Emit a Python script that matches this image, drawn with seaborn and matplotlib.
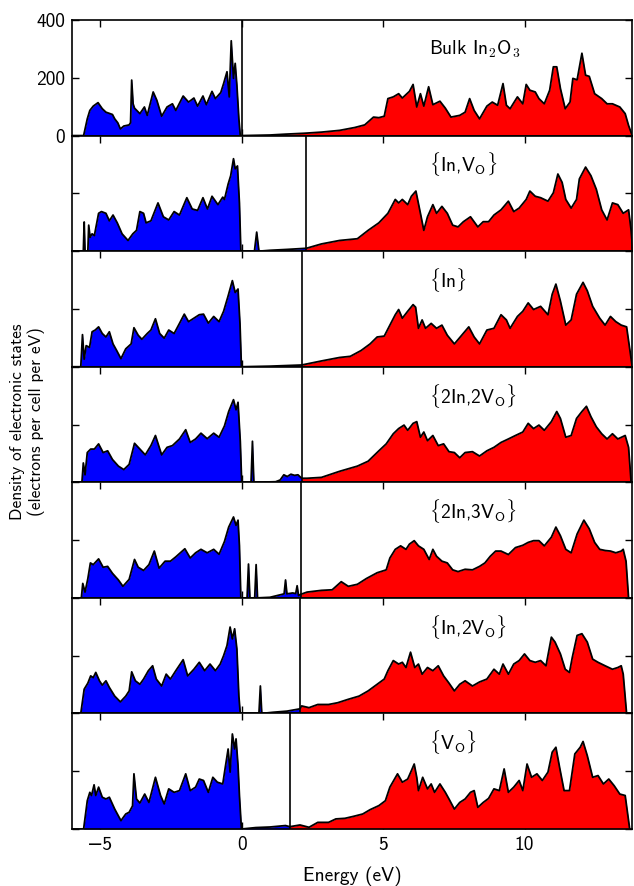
import numpy as np
import matplotlib
matplotlib.use("Agg")
import matplotlib.pyplot as plt
import seaborn as sns

# density of states: (energy eV, states per cell per eV)
bulk = [(-6.0, 0), (-5.59, 0), (-5.46, 58), (-5.37, 87), (-5.25, 102), (-5.08, 114), (-4.93, 93),
        (-4.80, 81), (-4.57, 73), (-4.49, 58), (-4.38, 44), (-4.29, 23), (-4.17, 33), (-3.98, 37),
        (-3.93, 45), (-3.89, 192), (-3.84, 110), (-3.79, 95), (-3.60, 76), (-3.44, 99), (-3.34, 70),
        (-3.13, 151), (-3.00, 122), (-2.83, 67), (-2.64, 99), (-2.45, 110), (-2.33, 87), (-2.07, 137),
        (-1.88, 116), (-1.69, 130), (-1.56, 102), (-1.37, 137), (-1.25, 107), (-1.05, 153), (-0.93, 128),
        (-0.74, 149), (-0.64, 180), (-0.52, 221), (-0.44, 134), (-0.37, 328), (-0.29, 198), (-0.23, 250),
        (-0.17, 174), (-0.10, 58), (-0.05, 0), (0.0, 0), (1.0, 2), (1.55, 5), (2.2, 8), (2.82, 12),
        (3.46, 18), (4.0, 28), (4.35, 37), (4.5, 50), (4.66, 64), (4.85, 62), (5.04, 67), (5.17, 128),
        (5.36, 134), (5.55, 145), (5.68, 130), (5.93, 153), (6.06, 177), (6.19, 99), (6.32, 145),
        (6.44, 102), (6.61, 169), (6.76, 107), (7.01, 119), (7.20, 95), (7.40, 64), (7.71, 70), (7.90, 81),
        (8.06, 128), (8.22, 87), (8.41, 58), (8.67, 102), (8.86, 116), (9.05, 105), (9.24, 180),
        (9.36, 105), (9.49, 93), (9.75, 134), (9.94, 110), (10.06, 177), (10.19, 157), (10.38, 151),
        (10.51, 128), (10.70, 110), (10.89, 157), (11.02, 238), (11.14, 238), (11.27, 163), (11.44, 93),
        (11.61, 116), (11.71, 198), (11.86, 193), (12.03, 285), (12.16, 209), (12.29, 205), (12.48, 145),
        (12.73, 128), (12.92, 110), (13.11, 110), (13.37, 99), (13.56, 76), (13.68, 35), (13.81, 0)]

in_vo = [(-6.0, 0), (-5.60, 0), (-5.57, 101), (-5.54, 0), (-5.44, 0), (-5.41, 90), (-5.36, 48), (-5.29, 60),
         (-5.21, 54), (-5.06, 131), (-4.96, 137), (-4.80, 131), (-4.68, 105), (-4.55, 125), (-4.40, 98),
         (-4.23, 60), (-4.02, 37), (-3.85, 60), (-3.72, 72), (-3.60, 137), (-3.47, 131), (-3.38, 98),
         (-3.21, 105), (-2.96, 167), (-2.77, 119), (-2.58, 108), (-2.39, 137), (-2.20, 125), (-1.94, 185),
         (-1.75, 146), (-1.56, 141), (-1.37, 185), (-1.21, 146), (-1.05, 190), (-0.84, 161), (-0.67, 187),
         (-0.61, 179), (-0.48, 232), (-0.39, 261), (-0.29, 320), (-0.23, 285), (-0.15, 295), (-0.08, 166),
         (-0.03, 0), (0.45, 0), (0.53, 66), (0.61, 0), (1.0, 3), (1.6, 6), (2.29, 10), (2.82, 25),
         (3.46, 37), (4.09, 43), (4.47, 72), (4.85, 98), (5.17, 131), (5.43, 179), (5.55, 167), (5.68, 179),
         (5.87, 161), (6.00, 190), (6.16, 208), (6.32, 131), (6.44, 72), (6.57, 119), (6.76, 161),
         (6.89, 131), (7.08, 155), (7.27, 131), (7.46, 90), (7.65, 84), (7.84, 102), (8.09, 119), (8.35, 84),
         (8.54, 102), (8.73, 102), (8.92, 125), (9.17, 143), (9.43, 173), (9.62, 137), (9.81, 149),
         (10.06, 179), (10.19, 208), (10.38, 190), (10.57, 185), (10.83, 173), (11.02, 202), (11.18, 267),
         (11.33, 238), (11.46, 179), (11.65, 149), (11.84, 179), (11.94, 250), (12.16, 291), (12.35, 261),
         (12.54, 214), (12.73, 143), (12.92, 108), (13.11, 167), (13.30, 161), (13.49, 131), (13.68, 143),
         (13.77, 72), (13.83, 0)]

in_only = [(-6.0, 0), (-5.69, 0), (-5.63, 111), (-5.57, 26), (-5.50, 73), (-5.38, 67), (-5.29, 121),
           (-5.18, 127), (-5.06, 138), (-4.93, 115), (-4.80, 103), (-4.68, 121), (-4.55, 79), (-4.42, 56),
           (-4.27, 28), (-4.10, 62), (-3.91, 79), (-3.81, 135), (-3.66, 109), (-3.53, 95), (-3.34, 115),
           (-3.21, 127), (-3.05, 166), (-2.90, 115), (-2.74, 99), (-2.58, 127), (-2.39, 115), (-2.20, 150),
           (-2.03, 182), (-1.88, 156), (-1.69, 168), (-1.50, 180), (-1.35, 182), (-1.18, 151), (-0.99, 174),
           (-0.80, 156), (-0.64, 192), (-0.48, 245), (-0.33, 298), (-0.23, 257), (-0.13, 269), (-0.06, 148),
           (-0.01, 0), (1.0, 2), (2.12, 6), (2.82, 20), (3.46, 32), (3.84, 36), (4.22, 56), (4.54, 79),
           (4.79, 103), (5.04, 106), (5.24, 144), (5.43, 180), (5.55, 198), (5.68, 168), (5.87, 192),
           (6.06, 215), (6.15, 206), (6.25, 133), (6.38, 162), (6.50, 133), (6.70, 150), (6.89, 133),
           (7.08, 144), (7.27, 109), (7.52, 79), (7.78, 109), (8.03, 138), (8.22, 103), (8.41, 79),
           (8.67, 127), (8.92, 133), (9.17, 180), (9.36, 162), (9.49, 133), (9.75, 174), (9.94, 192),
           (10.13, 221), (10.32, 198), (10.57, 209), (10.83, 180), (10.98, 251), (11.11, 286), (11.27, 227),
           (11.46, 144), (11.65, 162), (11.84, 251), (12.07, 292), (12.22, 263), (12.41, 209), (12.66, 168),
           (12.85, 144), (13.04, 174), (13.23, 156), (13.42, 144), (13.61, 138), (13.72, 62), (13.81, 0)]

in2_vo2 = [(-6.0, 0), (-5.65, 0), (-5.60, 67), (-5.54, 26), (-5.46, 103), (-5.34, 115), (-5.21, 115),
           (-5.06, 133), (-4.90, 103), (-4.74, 109), (-4.57, 79), (-4.36, 56), (-4.17, 44), (-3.98, 62),
           (-3.79, 135), (-3.60, 115), (-3.41, 95), (-3.21, 127), (-3.05, 162), (-2.83, 95), (-2.64, 121),
           (-2.45, 127), (-2.20, 150), (-1.98, 182), (-1.82, 138), (-1.63, 150), (-1.44, 170), (-1.22, 151),
           (-0.99, 170), (-0.80, 156), (-0.61, 195), (-0.46, 245), (-0.29, 286), (-0.20, 251), (-0.13, 277),
           (-0.05, 142), (0.0, 0), (0.33, 0), (0.38, 142), (0.43, 0), (1.2, 2), (1.36, 8), (1.49, 26),
           (1.61, 20), (1.74, 28), (1.87, 24), (1.99, 26), (2.12, 14), (2.31, 14), (2.82, 17), (3.46, 38),
           (4.09, 56), (4.47, 73), (4.85, 109), (5.11, 133), (5.36, 168), (5.55, 186), (5.74, 198),
           (5.87, 180), (6.06, 204), (6.19, 210), (6.32, 156), (6.44, 174), (6.57, 144), (6.76, 162),
           (6.95, 127), (7.14, 133), (7.33, 106), (7.52, 103), (7.71, 85), (7.90, 103), (8.16, 106),
           (8.41, 91), (8.67, 109), (8.92, 121), (9.17, 138), (9.43, 150), (9.68, 162), (9.94, 174),
           (10.13, 204), (10.32, 186), (10.51, 198), (10.70, 180), (10.95, 210), (11.14, 245), (11.27, 221),
           (11.46, 156), (11.65, 162), (11.84, 221), (12.03, 245), (12.19, 263), (12.35, 227), (12.54, 192),
           (12.73, 168), (12.92, 150), (13.11, 168), (13.30, 150), (13.56, 162), (13.68, 121), (13.77, 0)]

in2_vo3 = [(-6.0, 0), (-5.67, 0), (-5.62, 50), (-5.54, 20), (-5.44, 67), (-5.35, 121), (-5.25, 115),
           (-5.06, 135), (-4.90, 106), (-4.74, 109), (-4.57, 85), (-4.36, 62), (-4.20, 40), (-3.98, 64),
           (-3.79, 133), (-3.66, 106), (-3.47, 95), (-3.28, 115), (-3.09, 162), (-2.92, 103), (-2.71, 127),
           (-2.52, 127), (-2.33, 142), (-2.01, 170), (-1.82, 138), (-1.63, 156), (-1.44, 168), (-1.22, 156),
           (-0.99, 168), (-0.80, 151), (-0.61, 195), (-0.46, 245), (-0.29, 280), (-0.20, 251), (-0.13, 269),
           (-0.08, 180), (-0.03, 0), (0.19, 0), (0.24, 117), (0.29, 0), (0.46, 0), (0.51, 115), (0.56, 0),
           (1.0, 2), (1.42, 12), (1.50, 14), (1.55, 62), (1.60, 14), (1.80, 17), (1.91, 15), (1.96, 42),
           (2.01, 8), (2.08, 12), (2.31, 20), (2.82, 26), (3.20, 28), (3.52, 56), (3.77, 40), (4.09, 47),
           (4.41, 67), (4.79, 87), (5.11, 97), (5.24, 138), (5.43, 168), (5.62, 180), (5.81, 168),
           (5.93, 186), (6.10, 198), (6.25, 180), (6.44, 168), (6.63, 133), (6.76, 168), (6.89, 144),
           (7.08, 127), (7.27, 121), (7.46, 97), (7.65, 91), (7.90, 99), (8.16, 97), (8.41, 109), (8.60, 121),
           (8.79, 144), (8.98, 162), (9.17, 162), (9.43, 150), (9.68, 174), (9.94, 182), (10.13, 192),
           (10.32, 198), (10.51, 198), (10.70, 180), (10.95, 210), (11.11, 245), (11.27, 215), (11.46, 168),
           (11.65, 156), (11.86, 221), (12.10, 269), (12.29, 239), (12.48, 192), (12.66, 168), (12.85, 164),
           (13.04, 162), (13.23, 156), (13.42, 162), (13.49, 168), (13.59, 127), (13.68, 0)]

in_vo2 = [(-6.0, 0), (-5.69, 0), (-5.57, 84), (-5.44, 105), (-5.34, 130), (-5.25, 124), (-5.16, 142),
          (-5.03, 113), (-4.93, 98), (-4.80, 113), (-4.68, 90), (-4.49, 60), (-4.29, 40), (-4.10, 60),
          (-3.98, 78), (-3.89, 144), (-3.76, 113), (-3.60, 101), (-3.47, 119), (-3.30, 148), (-3.15, 165),
          (-3.02, 119), (-2.83, 95), (-2.67, 136), (-2.52, 119), (-2.33, 148), (-2.07, 186), (-1.91, 130),
          (-1.69, 153), (-1.50, 177), (-1.31, 148), (-1.12, 171), (-0.93, 148), (-0.76, 171), (-0.64, 200),
          (-0.52, 235), (-0.41, 299), (-0.33, 258), (-0.25, 293), (-0.17, 223), (-0.10, 60), (-0.05, 0),
          (0.61, 0), (0.66, 95), (0.71, 0), (1.1, 4), (1.6, 8), (2.06, 16), (2.12, 26), (2.38, 20),
          (2.69, 31), (3.07, 31), (3.39, 37), (3.77, 49), (4.15, 60), (4.47, 78), (4.79, 101), (5.04, 119),
          (5.17, 148), (5.36, 183), (5.55, 171), (5.68, 177), (5.81, 159), (5.97, 212), (6.12, 159),
          (6.25, 171), (6.38, 136), (6.57, 159), (6.76, 148), (6.95, 165), (7.14, 130), (7.33, 105),
          (7.52, 78), (7.71, 101), (7.90, 113), (8.16, 95), (8.41, 109), (8.67, 119), (8.92, 153),
          (9.11, 136), (9.24, 171), (9.43, 136), (9.62, 171), (9.81, 183), (10.00, 206), (10.19, 183),
          (10.38, 177), (10.57, 183), (10.76, 165), (10.95, 264), (11.08, 247), (11.27, 206), (11.44, 153),
          (11.59, 142), (11.69, 194), (11.86, 270), (12.03, 276), (12.22, 247), (12.41, 188), (12.60, 177),
          (12.85, 165), (13.11, 153), (13.30, 159), (13.42, 165), (13.49, 136), (13.61, 0)]

vo_only = [(-6.0, 0), (-5.59, 0), (-5.46, 98), (-5.37, 127), (-5.31, 116), (-5.22, 153), (-5.16, 116),
           (-5.06, 145), (-4.93, 110), (-4.80, 104), (-4.68, 110), (-4.49, 69), (-4.27, 29), (-4.10, 52),
           (-3.98, 58), (-3.86, 80), (-3.81, 191), (-3.72, 104), (-3.60, 90), (-3.43, 121), (-3.28, 92),
           (-3.05, 179), (-2.87, 116), (-2.74, 87), (-2.58, 139), (-2.39, 127), (-2.20, 133), (-1.98, 191),
           (-1.82, 133), (-1.63, 145), (-1.50, 173), (-1.35, 168), (-1.18, 127), (-1.02, 179), (-0.86, 162),
           (-0.67, 156), (-0.58, 214), (-0.48, 277), (-0.41, 197), (-0.33, 329), (-0.25, 277), (-0.20, 312),
           (-0.13, 220), (-0.08, 116), (-0.01, 0), (0.5, 5), (1.0, 7), (1.55, 12), (1.70, 8), (2.06, 14),
           (2.38, 6), (2.69, 23), (3.07, 23), (3.33, 35), (3.65, 37), (3.96, 44), (4.28, 52), (4.54, 67),
           (4.85, 81), (5.08, 98), (5.24, 145), (5.51, 191), (5.68, 162), (5.87, 173), (6.00, 202),
           (6.10, 225), (6.19, 179), (6.25, 133), (6.40, 179), (6.57, 139), (6.70, 156), (6.82, 127),
           (7.01, 156), (7.20, 127), (7.33, 104), (7.52, 69), (7.71, 92), (7.90, 104), (8.09, 127),
           (8.22, 133), (8.35, 75), (8.54, 92), (8.73, 106), (8.92, 139), (9.11, 133), (9.28, 208),
           (9.43, 127), (9.62, 145), (9.81, 168), (9.94, 133), (10.09, 225), (10.25, 179), (10.44, 191),
           (10.63, 168), (10.83, 197), (10.98, 266), (11.11, 283), (11.24, 214), (11.40, 133), (11.59, 133),
           (11.78, 260), (11.97, 283), (12.07, 303), (12.22, 254), (12.41, 179), (12.60, 185), (12.79, 156),
           (12.98, 173), (13.17, 150), (13.37, 121), (13.56, 116), (13.72, 0)]

panels = [bulk, in_vo, in_only, in2_vo2, in2_vo3, in_vo2, vo_only]
fermi_levels = [0.0, 2.29, 2.12, 2.12, 2.08, 2.06, 1.70]
labels = [r"Bulk In$_\mathsf{2}$O$_\mathsf{3}$",
          r"$\{$In,V$_\mathsf{O}\}$",
          r"$\{$In$\}$",
          r"$\{$2In,2V$_\mathsf{O}\}$",
          r"$\{$2In,3V$_\mathsf{O}\}$",
          r"$\{$In,2V$_\mathsf{O}\}$",
          r"$\{$V$_\mathsf{O}\}$"]
x_ticks = [-5, 0, 5, 10]
y_ticks = [0, 200, 400]

sns.set_theme(style="ticks", rc={"axes.edgecolor": "black", "text.color": "black",
                                 "xtick.color": "black", "ytick.color": "black",
                                 "axes.labelcolor": "black"})
plt.rcParams["font.family"] = ["cmss10", "DejaVu Sans"]
plt.rcParams["mathtext.fontset"] = "cm"
plt.rcParams["axes.unicode_minus"] = True

fig, axes = plt.subplots(7, 1, figsize=(6.34, 8.86), dpi=100, sharex=True)
fig.subplots_adjust(left=0.1136, right=0.9968, top=0.9774, bottom=0.0643, hspace=0)

for i, (ax, pts, ef, lab) in enumerate(zip(axes, panels, fermi_levels, labels)):
    e = np.array([p[0] for p in pts])
    d = np.array([p[1] for p in pts])
    d_ef = np.interp(ef, e, d)
    occ = e <= ef
    # occupied states blue, empty states red
    ax.fill_between(np.append(e[occ], ef), np.append(d[occ], d_ef), color="#0000ff", lw=0)
    ax.fill_between(np.insert(e[~occ], 0, ef), np.insert(d[~occ], 0, d_ef), color="#ff0000", lw=0)
    sns.lineplot(x=e, y=d, ax=ax, color="black", lw=1.3, sort=False, estimator=None)
    ax.axvline(ef, color="black", lw=1.2)
    ax.text(6.64, 300, lab, ha="left", va="center", fontsize=14)

    ax.set_xlim(-6, 13.8)
    ax.set_ylim(0, 400)
    ax.set_yticks(y_ticks)
    ax.set_xticks(x_ticks)
    ax.tick_params(direction="in", top=True, right=True, length=5, width=1, labelsize=14, pad=5)
    for sp in ax.spines.values():
        sp.set_linewidth(1.2)
        sp.set_visible(True)
    if i > 0:
        ax.set_yticklabels([])
    ax.set_ylabel("")

axes[-1].set_xlabel("Energy (eV)", fontsize=14, labelpad=9)
fig.text(0.044, 0.524, "Density of electronic states\n(electrons per cell per eV)",
         rotation=90, ha="center", va="center", fontsize=12.5, multialignment="center")

fig.savefig("out.png", dpi=100)
